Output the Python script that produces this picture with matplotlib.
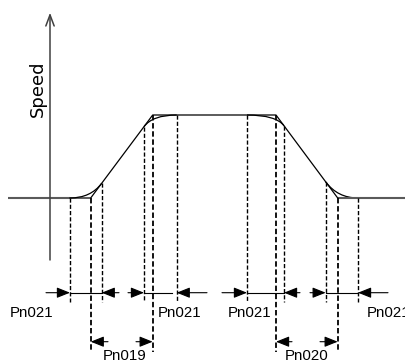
import numpy as np
import matplotlib
matplotlib.use("Agg")
import matplotlib.pyplot as plt
from matplotlib.path import Path
from matplotlib.patches import PathPatch

# trapezoid speed profile (time, speed), schematic units
trap_t = [20, 40.7, 102.7, 226, 287.7]
trap_v = [0, 0, 83, 83, 0]

# S-curve smoothing: corner of trapezoid is the control point
corner_t = [40.7, 102.7, 226, 287.7]
smooth_in = [20, 94, 197, 275.7]
smooth_out = [51.7, 126.7, 234, 308]

# dashed guide lines
dash_t = [20, 40.7, 51.7, 94, 102.7, 126.7, 197, 226, 234, 275.7, 287.7, 308]
dash_long = [False, True, False, False, True, False, False, True, False, False, True, False]

# baseline (zero speed) outside the profile
base_left = [-42, 20]
base_right = [287.7, 355]

# dimension arrows (tail, tip)
upper_y = -94.7
upper_arrows = [(-4, 20), (69, 51.7), (78, 94), (157, 126.7),
                (172, 197), (250, 234), (260, 275.7), (338, 308)]
upper_spans = [(20, 51.7), (94, 122), (197, 234), (275.7, 307)]
lower_y = -143.7
lower_arrows = [(58, 40.7), (86, 102.7), (242, 226), (270, 287.7)]

labels = ['Pn021', 'Pn021', 'Pn021', 'Pn021', 'Pn019', 'Pn020']
label_t = [-18.5, 129.5, 200, 338.5, 75, 256.5]
label_v = [-118.7, -118.7, -118.7, -118.7, -162.5, -162.5]

axis_bottom = -62
axis_top = 185.3

fig = plt.figure(figsize=(4.06, 3.63), dpi=100)
ax = fig.add_axes([0, 0, 1, 1])
ax.set_xlim(-50, 356)
ax.set_ylim(-165, 198)
ax.axis('off')

# y axis with open arrow
ax.annotate('', xy=(0, axis_top), xytext=(0, axis_bottom),
            arrowprops=dict(arrowstyle='->,head_length=0.8,head_width=0.3',
                            color='#404040', lw=1.1, shrinkA=0, shrinkB=0))
ax.text(-12.5, 109, 'Speed', rotation=90, ha='center', va='center',
        fontsize=13, family='DejaVu Sans')

# baseline
ax.plot(base_left, [0, 0], color='#5a5a5a', lw=1.5, solid_capstyle='butt')
ax.plot(base_right, [0, 0], color='#5a5a5a', lw=1.5, solid_capstyle='butt')

# trapezoid
ax.plot(trap_t, trap_v, color='black', lw=0.9)

# smoothed corners
for t0, tc, t1 in zip(smooth_in, corner_t, smooth_out):
    v0 = np.interp(t0, trap_t, trap_v)
    vc = np.interp(tc, trap_t, trap_v)
    v1 = np.interp(t1, trap_t, trap_v)
    p = Path([(t0, v0), (tc, vc), (t1, v1)], [Path.MOVETO, Path.CURVE3, Path.CURVE3])
    ax.add_patch(PathPatch(p, facecolor='none', edgecolor='black', lw=0.9))

# dashed guides
dash_top = np.interp(dash_t, trap_t, trap_v)
for t, top, long_ in zip(dash_t, dash_top, dash_long):
    bottom = -154 if long_ else -104
    ax.plot([t, t], [top, bottom], color='black', lw=1.3 if long_ else 1.0,
            linestyle=(0, (3, 1.5)))

# dimension lines
arrow_kw = dict(arrowstyle='-|>,head_length=0.8,head_width=0.32',
                color='black', lw=0.8, shrinkA=0, shrinkB=0)
for a, b in upper_spans:
    ax.plot([a, b], [upper_y, upper_y], color='black', lw=0.8)
for tail, tip in upper_arrows:
    ax.annotate('', xy=(tip, upper_y), xytext=(tail, upper_y), arrowprops=arrow_kw)
for tail, tip in lower_arrows:
    ax.annotate('', xy=(tip, lower_y), xytext=(tail, lower_y), arrowprops=arrow_kw)

for s, t, v in zip(labels, label_t, label_v):
    ax.text(t, v, s, ha='center', va='baseline', fontsize=10.8,
            family='Liberation Sans')

fig.savefig('out.png', dpi=100)
